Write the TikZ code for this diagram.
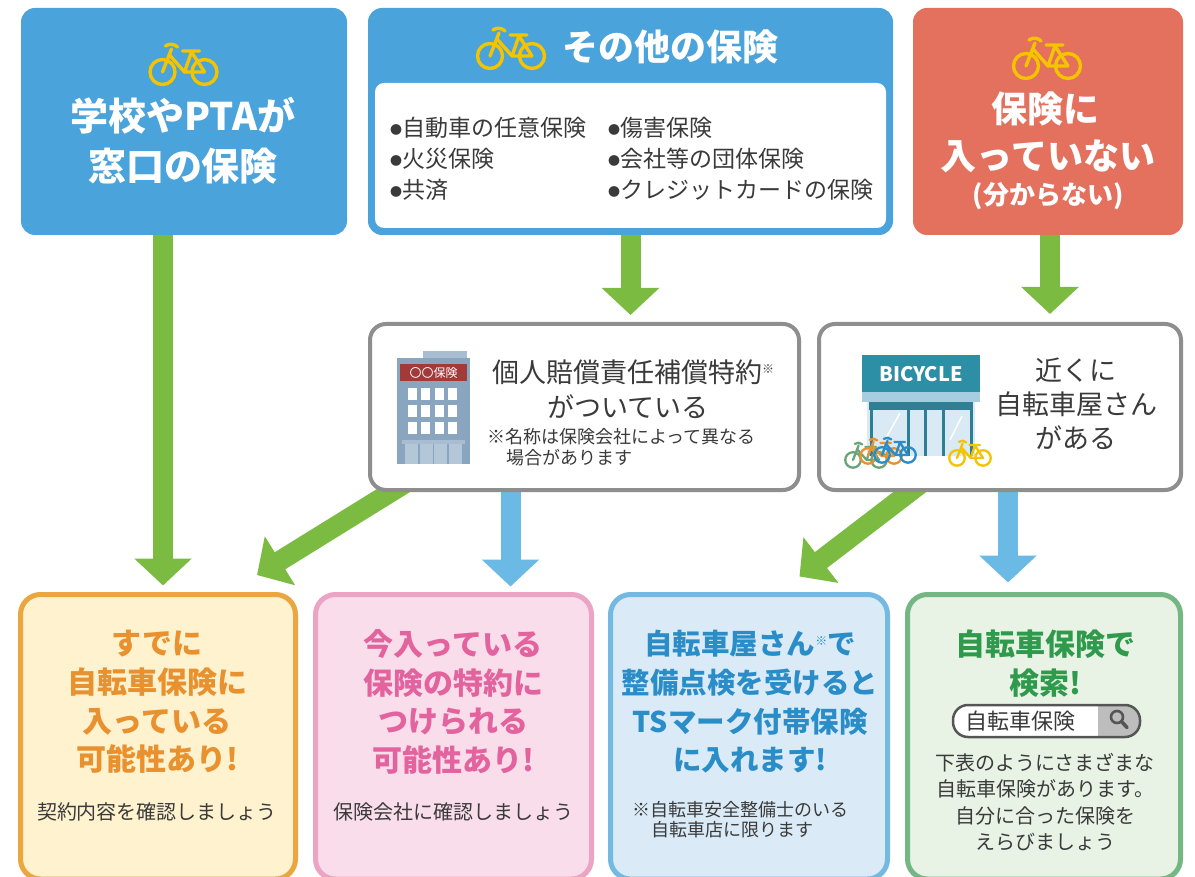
\documentclass[tikz,border=0pt]{standalone}
\usepackage{fontspec}
\setmainfont{Noto Sans CJK JP}
\usetikzlibrary{arrows.meta,calc,backgrounds}

\definecolor{boxblue}{HTML}{4AA3DB}
\definecolor{boxred}{HTML}{E4705E}
\definecolor{bikeyel}{HTML}{F4C400}
\definecolor{arrgreen}{HTML}{7CBB42}
\definecolor{arrblue}{HTML}{6ABAE5}
\definecolor{framegray}{HTML}{8E8E8E}
\definecolor{txtdark}{HTML}{3A3A3A}
\definecolor{orline}{HTML}{EBA640}
\definecolor{orfill}{HTML}{FEF2CF}
\definecolor{ortext}{HTML}{E8912E}
\definecolor{pkline}{HTML}{EBA3C6}
\definecolor{pkfill}{HTML}{FADDEB}
\definecolor{pktext}{HTML}{E2639E}
\definecolor{blline}{HTML}{73B9E2}
\definecolor{blfill}{HTML}{DAEBF7}
\definecolor{bltext}{HTML}{2A8DC8}
\definecolor{gnline}{HTML}{75B784}
\definecolor{gnfill}{HTML}{E8F3E6}
\definecolor{gntext}{HTML}{2F9A4C}
\definecolor{bldbody}{HTML}{8AA5C0}
\definecolor{bldtop}{HTML}{A9BDD1}
\definecolor{bldsign}{HTML}{A23A3A}
\definecolor{blddoor}{HTML}{B4C7D9}
\definecolor{shopteal}{HTML}{2C8FA5}
\definecolor{shopdark}{HTML}{2E7E94}
\definecolor{shopawn}{HTML}{A7CDE0}
\definecolor{shopglass}{HTML}{D9EAF4}
\definecolor{srchgray}{HTML}{BDBDBD}
\definecolor{srchline}{HTML}{555555}

\newcommand{\mybullet}{\raisebox{2.5pt}{\fontsize{12}{12}\selectfont ●}}
\newcommand{\smallmark}{\raisebox{9pt}{\fontsize{12}{12}\selectfont ※}}

\tikzset{
  panel/.style={rectangle, rounded corners=14pt, inner sep=0pt, outer sep=0pt},
  midpanel/.style={panel, rounded corners=16pt, draw=framegray, line width=4pt,
    fill=white, minimum width=429pt, minimum height=166pt},
  endpanel/.style={panel, rounded corners=20pt, line width=5pt,
    minimum height=284.5pt},
  garrow/.style={draw=arrgreen, line width=20pt, -{Triangle[width=56pt,length=27pt]}},
  barrow/.style={draw=arrblue, line width=20pt, -{Triangle[width=56pt,length=27pt]}},
  txt/.style={inner sep=0pt, align=center},
  bigwhite/.style={txt, text=white, font=\bfseries\fontsize{38}{50}\selectfont},
  endtitle/.style={txt, font=\bfseries\fontsize{30}{38.7}\selectfont},
  endsub/.style={txt, text=txtdark, font=\fontsize{20}{26.5}\selectfont},
  midtext/.style={txt, text=txtdark, font=\fontsize{27}{34}\selectfont},
  note/.style={inner sep=0pt, anchor=west, text=txtdark, font=\fontsize{18}{20}\selectfont},
  listcol/.style={txt, anchor=west, align=left, text=txtdark, font=\fontsize{23}{31}\selectfont},
  bike/.pic={
    \draw[line cap=round, line join=round]
      (-21,8) circle[radius=12.5pt]
      (21,8) circle[radius=12.5pt]
      (-21,8) -- (-12,-15)
      (-18,-18) .. controls (-14,-21) and (-9,-20) .. (-6,-17)
      (-14,-9) -- (1,8) -- (21,8)
      (1,8) -- (8,-12)
      (8,-12) -- (21,8)
      (-1,-13) -- (16,-13);
  }
}

\begin{document}
\begin{tikzpicture}[x=1pt,y=-1pt]
\useasboundingbox (0,0) rectangle (1195,877);
\clip (0,0) rectangle (1195,877);

% ---------- top row ----------
\node[panel, fill=boxblue, minimum width=326pt, minimum height=227pt] (A) at (184,121.5) {};
\pic[color=bikeyel, line width=3.4pt] (bikeA) at (183.5,64) {bike};
\node[bigwhite] (Atext) at (183,141) {学校やPTAが\\窓口の保険};

\node[panel, fill=boxblue, minimum width=525pt, minimum height=227pt] (B) at (630.5,121.5) {};
\node[panel, rounded corners=9pt, fill=white, minimum width=511pt, minimum height=145pt] (Bbody) at (630.5,155.5) {};
\pic[color=bikeyel, line width=3.4pt] (bikeB) at (511,48) {bike};
\node[txt, text=white, font=\bfseries\fontsize{36}{40}\selectfont] (Btitle) at (670,47) {その他の保険};
\node[listcol] (Bcol1) at (390,159)
  {\mybullet 自動車の任意保険\\\mybullet 火災保険\\\mybullet 共済};
\node[listcol] (Bcol2) at (608,159)
  {\mybullet 傷害保険\\\mybullet 会社等の団体保険\\\mybullet クレジットカードの保険};

\node[panel, fill=boxred, minimum width=270pt, minimum height=227pt] (C) at (1048,121.5) {};
\pic[color=bikeyel, line width=3.4pt] (bikeC) at (1047,58) {bike};
\node[txt, text=white, font=\bfseries\fontsize{36}{40}\selectfont] (Cl1) at (1045,109) {保険に};
\node[txt, text=white, font=\bfseries\fontsize{36}{40}\selectfont] (Cl2) at (1048,156) {入っていない};
\node[txt, text=white, font=\bfseries\fontsize{26}{30}\selectfont] (Cl3) at (1048,196) {(分からない)};

% ---------- middle row ----------
\node[midpanel] (D) at (584.5,407) {};
\node[midpanel, minimum width=362pt] (E) at (1000,407) {};

% insurance company building
\fill[bldtop] (423,351) rectangle (467,359);
\fill[bldbody] (397,358) rectangle (470,464);
\fill[bldsign] (400,364) rectangle (467,381);
\node[txt, text=white, font=\fontsize{12}{12}\selectfont] (sign) at (433.5,372.5) {〇〇保険};
\foreach \i in {0,...,3}
  \foreach \j in {0,...,2}
    \fill[white] ({408+\i*13.3},{388+\j*17}) rectangle +(9,12);
\fill[bldtop] (402,440) rectangle (465,444);
\fill[blddoor] (405,444) rectangle (462,464);
\draw[bldbody, line width=1.5pt] (419,444) -- (419,464) (433.5,444) -- (433.5,464) (448,444) -- (448,464);

\node[midtext] (Dl1) at (633,372) {個人賠償責任補償特約\smallmark};
\node[midtext] (Dl2) at (628,407) {がついている};
\node[note] (Dn1) at (487,437) {※名称は保険会社によって異なる};
\node[note] (Dn2) at (506,458) {場合があります};

% bicycle shop
\fill[shopteal] (862,355) rectangle (980,392);
\node[txt, text=white, font=\bfseries\fontsize{20}{20}\selectfont] (shopsign) at (921,374) {BICYCLE};
\fill[shopawn] (862,392) rectangle (980,402);
\fill[shopglass] (867,402) rectangle (975,456);
\fill[shopdark] (869,402) rectangle (973,410);
\draw[shopdark, line width=3pt] (871,410) -- (871,456) (908,410) -- (908,456)
  (925,410) -- (925,456) (943,410) -- (943,456) (971,410) -- (971,456);
\draw[white, line width=1.5pt] (885,440) -- (900,413) (950,440) -- (962,416);
\pic[color=gnline!90!black, line width=2.3pt, scale=0.62] (sbk1) at (866,455) {bike};
\pic[color=ortext, line width=2.3pt, scale=0.62] (sbk2) at (881,451) {bike};
\pic[color=bltext, line width=2.3pt, scale=0.62] (sbk3) at (895,450) {bike};
\pic[color=bikeyel, line width=2.3pt, scale=0.62] (sbk4) at (970,453) {bike};

\node[midtext] (Etext) at (1076,404) {近くに\\自転車屋さん\\がある};

% ---------- bottom row ----------
\node[endpanel, draw=orline, fill=orfill, minimum width=275pt] (F) at (158,736.75) {};
\node[endpanel, draw=pkline, fill=pkfill, minimum width=276pt] (G) at (453.5,736.75) {};
\node[endpanel, draw=blline, fill=blfill, minimum width=277pt] (H) at (749,736.75) {};
\node[endpanel, draw=gnline, fill=gnfill, minimum width=273pt] (I) at (1044,736.75) {};

\node[endtitle, text=ortext] (Ftitle) at (157,702) {すでに\\自転車保険に\\入っている\\可能性あり!};
\node[endsub] (Fsub) at (157,812) {契約内容を確認しましょう};

\node[endtitle, text=pktext] (Gtitle) at (453,702) {今入っている\\保険の特約に\\つけられる\\可能性あり!};
\node[endsub] (Gsub) at (453,812) {保険会社に確認しましょう};

\node[endtitle, text=bltext, font=\bfseries\fontsize{28.5}{38.7}\selectfont] (Htitle) at (750,702)
  {自転車屋さん\smallmark で\\整備点検を受けると\\TSマーク付帯保険\\に入れます!};
\node[note] (Hn1) at (632,810) {※自転車安全整備士のいる};
\node[note] (Hn2) at (651,830) {自転車店に限ります};

\node[endtitle, text=gntext] (Ititle) at (1045,664) {自転車保険で\\検索!};
\node[panel, rounded corners=15pt, fill=white, minimum width=187pt, minimum height=32pt] (srch) at (1046.5,721) {};
\begin{scope}
  \clip[rounded corners=15pt] (953,705) rectangle (1140,737);
  \fill[srchgray] (1098,700) rectangle (1145,742);
\end{scope}
\node[panel, rounded corners=15pt, draw=srchline, line width=2.5pt, minimum width=187pt, minimum height=32pt] (srchframe) at (1046.5,721) {};
\node[txt, text=txtdark, font=\fontsize{22}{24}\selectfont] (srchtext) at (1020,721) {自転車保険};
\draw[srchline, line width=2.6pt] (1117,717) circle[radius=6pt];
\draw[srchline, line width=3.6pt, line cap=round] (1121.5,721.5) -- (1127,727.5);
\node[endsub] (Isub) at (1045,802) {下表のようにさまざまな\\自転車保険があります。\\自分に合った保険を\\えらびましょう};

% ---------- connectors ----------
\begin{scope}[on background layer]
  \fill[white] (0,0) rectangle (1195,877);
  \draw[garrow] ($(A.south)+(-21,-5)$) -- ($(F.north)+(5,-9)$);
  \draw[garrow] ($(B.south)+(0,-5)$) -- ($(B.south |- D.north)+(0,-9)$);
  \draw[garrow] ($(C.south)+(2,-5)$) -- ($(C.south |- E.north)+(2,-10)$);
  \coordinate (dfstart) at ($(D.south west)+(55,-19)$);
  \draw[garrow] (dfstart) -- ($(F.north east)+(-38.5,-19.5)$);
  \coordinate (dgstart) at ($(D.south)+(-74,-5)$);
  \draw[barrow] (dgstart) -- ($(dgstart |- G.north)+(0,-8)$);
  \coordinate (ehstart) at ($(E.south west)+(113,-15)$);
  \draw[garrow] (ehstart) -- ($(H.north east)+(-88,-18)$);
  \coordinate (eistart) at ($(E.south)+(8,-5)$);
  \draw[barrow] (eistart) -- ($(eistart |- I.north)+(0,-12)$);
\end{scope}
\end{tikzpicture}
\end{document}
